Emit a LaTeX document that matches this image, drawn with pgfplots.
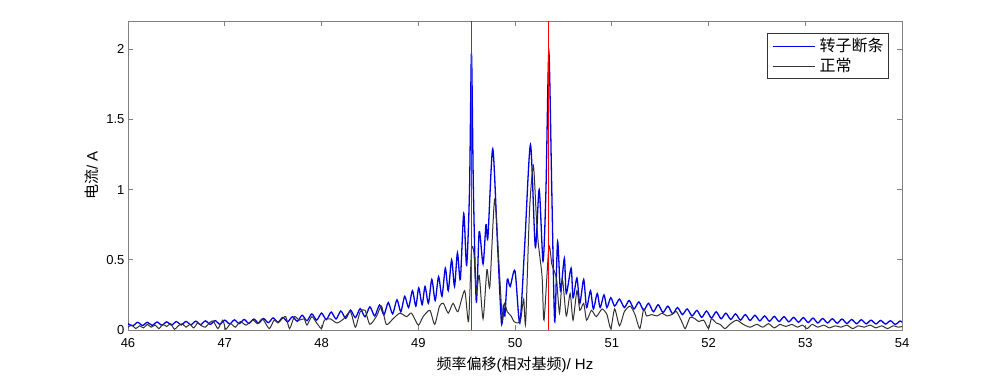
\documentclass[border=0pt]{standalone}
\usepackage{fontspec}
\setmainfont{Liberation Sans}
\newfontfamily\cjk{Noto Sans CJK SC}
\usepackage{pgfplots}
\pgfplotsset{compat=1.18}
\begin{document}
\begin{tikzpicture}
\begin{axis}[
 scale only axis, width=774pt, height=309pt,
 xmin=46, xmax=54, ymin=0, ymax=2.2,
 xtick={46,47,48,49,50,51,52,53,54}, ytick={0,0.5,1,1.5,2},
 axis line style={draw=black!50, line width=0.8pt},
 tick style={draw=black!50, line width=0.6pt},
 major tick length=5pt,
 tick label style={font=\fontsize{13}{15}\selectfont},
 xticklabel style={yshift=-5pt},
 /pgf/number format/assume math mode=true,
 xlabel={{\cjk 频率偏移}({\cjk 相对基频})/ Hz},
 ylabel={{\cjk 电流}/ A},
 label style={font=\fontsize{15}{18}\selectfont},
 xlabel style={at={(axis description cs:0.5,-0.113)}, anchor=center},
 ylabel style={at={(axis description cs:-0.0465,0.5)}, anchor=center},
 legend style={at={(0.983,0.961)}, anchor=north east, draw=black!80,
   font=\cjk\fontsize{16}{19}\selectfont, inner xsep=3pt, inner ysep=3pt,
   row sep=1pt, cells={anchor=west}},
]
\addplot[blue!90!black, line width=1.3pt, smooth, tension=0.45, forget plot] coordinates {
(46.00,0.045) (46.05,0.030) (46.10,0.055) (46.15,0.032) (46.20,0.055) (46.25,0.033)
(46.30,0.057) (46.35,0.034) (46.40,0.058) (46.45,0.035) (46.50,0.060) (46.55,0.036)
(46.60,0.061) (46.65,0.037) (46.70,0.063) (46.75,0.038) (46.80,0.065) (46.85,0.040)
(46.90,0.067) (46.95,0.041) (47.00,0.070) (47.05,0.043) (47.10,0.072) (47.15,0.045)
(47.20,0.075) (47.25,0.047) (47.30,0.078) (47.35,0.049) (47.40,0.082) (47.45,0.052)
(47.50,0.086) (47.55,0.055) (47.60,0.090) (47.65,0.058) (47.70,0.095) (47.75,0.062)
(47.80,0.105) (47.85,0.066) (47.90,0.115) (47.95,0.070) (48.00,0.120) (48.05,0.074)
(48.10,0.128) (48.15,0.078) (48.20,0.135) (48.25,0.083) (48.30,0.142) (48.35,0.088)
(48.40,0.152) (48.45,0.094) (48.50,0.165) (48.55,0.100) (48.60,0.178) (48.645,0.108)
(48.69,0.195) (48.735,0.115) (48.78,0.215) (48.82,0.130) (48.86,0.240) (48.90,0.160)
(48.94,0.280) (48.975,0.170) (49.005,0.300) (49.04,0.180) (49.07,0.310) (49.105,0.190)
(49.14,0.360) (49.175,0.210) (49.21,0.380) (49.245,0.240) (49.28,0.440) (49.31,0.280)
(49.345,0.500) (49.375,0.310) (49.405,0.550) (49.435,0.360) (49.47,0.830) (49.50,0.460)
(49.53,1.000) (49.55,1.970) (49.57,1.000) (49.60,0.200) (49.63,0.700) (49.67,0.470)
(49.70,0.750) (49.72,0.660) (49.77,1.290) (49.82,0.600) (49.86,0.050) (49.88,0.170)
(49.895,0.100) (49.92,0.360) (49.95,0.310) (50.00,0.420) (50.05,0.050) (50.10,0.600)
(50.16,1.320) (50.21,0.590) (50.25,1.000) (50.29,0.490) (50.32,1.000) (50.35,1.980)
(50.38,1.000) (50.41,0.060) (50.44,0.630) (50.47,0.280) (50.51,0.510) (50.53,0.260)
(50.58,0.440) (50.60,0.230) (50.64,0.370) (50.67,0.190) (50.71,0.360) (50.74,0.160)
(50.78,0.280) (50.81,0.150) (50.85,0.260) (50.88,0.160) (50.92,0.250) (50.95,0.160)
(50.99,0.230) (51.03,0.170) (51.08,0.220) (51.13,0.160) (51.18,0.210) (51.23,0.150)
(51.28,0.200) (51.33,0.140) (51.38,0.190) (51.43,0.130) (51.48,0.180) (51.53,0.125)
(51.58,0.170) (51.63,0.115) (51.68,0.160) (51.73,0.110) (51.78,0.150) (51.83,0.100)
(51.88,0.140) (51.93,0.090) (51.98,0.135) (52.03,0.085) (52.08,0.130) (52.13,0.080)
(52.18,0.120) (52.23,0.075) (52.28,0.115) (52.33,0.070) (52.38,0.110) (52.43,0.068)
(52.48,0.105) (52.53,0.065) (52.58,0.100) (52.63,0.062) (52.68,0.097) (52.73,0.060)
(52.78,0.095) (52.83,0.058) (52.88,0.090) (52.93,0.055) (52.98,0.088) (53.03,0.053)
(53.08,0.085) (53.13,0.050) (53.18,0.082) (53.23,0.050) (53.28,0.080) (53.33,0.048)
(53.38,0.078) (53.43,0.046) (53.48,0.075) (53.53,0.045) (53.58,0.073) (53.63,0.044)
(53.68,0.070) (53.73,0.043) (53.78,0.068) (53.83,0.042) (53.88,0.066) (53.93,0.040)
(53.98,0.064) (54.00,0.055)
};
\addplot[black!80, line width=1.0pt, smooth, tension=0.4, forget plot] coordinates {
(46.00,0.020) (46.04,0.035) (46.08,0.010) (46.12,0.030) (46.16,0.015) (46.20,0.040)
(46.24,0.020) (46.28,0.035) (46.32,0.010) (46.36,0.040) (46.40,0.025) (46.44,0.045)
(46.48,0.005) (46.52,0.030) (46.56,0.045) (46.60,0.020) (46.64,0.040) (46.68,0.015)
(46.72,0.050) (46.76,0.030) (46.80,0.020) (46.84,0.050) (46.88,0.065) (46.93,0.010)
(46.98,0.070) (47.01,0.005) (47.06,0.045) (47.11,0.020) (47.16,0.060) (47.22,0.035)
(47.29,0.070) (47.34,0.045) (47.39,0.080) (47.46,0.010) (47.51,0.070) (47.55,0.050)
(47.58,0.070) (47.63,0.095) (47.67,0.010) (47.72,0.095) (47.77,0.070) (47.82,0.080)
(47.85,0.035) (47.90,0.095) (47.95,0.050) (48.00,0.010) (48.03,0.070) (48.09,0.080)
(48.16,0.050) (48.23,0.080) (48.30,0.130) (48.35,0.020) (48.40,0.130) (48.45,0.140)
(48.50,0.040) (48.57,0.100) (48.62,0.170) (48.67,0.040) (48.74,0.080) (48.81,0.120)
(48.88,0.095) (48.93,0.120) (49.00,0.035) (49.05,0.095) (49.12,0.140) (49.17,0.040)
(49.22,0.170) (49.26,0.190) (49.31,0.120) (49.36,0.190) (49.41,0.130) (49.48,0.280)
(49.52,0.060) (49.55,0.570) (49.575,0.550) (49.60,0.260) (49.63,0.390) (49.67,0.080)
(49.71,0.430) (49.74,0.310) (49.79,0.930) (49.84,0.400) (49.87,0.070) (49.89,0.190)
(49.92,0.130) (49.96,0.100) (49.99,0.060) (50.03,0.050) (50.06,0.080) (50.09,0.220)
(50.11,0.050) (50.15,0.850) (50.19,1.170) (50.22,0.810) (50.24,0.620) (50.28,0.380)
(50.30,0.070) (50.35,0.590) (50.38,0.470) (50.40,0.430) (50.43,0.360) (50.46,0.120)
(50.49,0.360) (50.53,0.100) (50.57,0.260) (50.60,0.070) (50.64,0.280) (50.67,0.140)
(50.71,0.190) (50.74,0.070) (50.79,0.140) (50.84,0.095) (50.90,0.150) (50.95,0.110)
(50.99,0.010) (51.03,0.150) (51.08,0.030) (51.13,0.130) (51.19,0.170) (51.24,0.110)
(51.29,0.010) (51.33,0.150) (51.36,0.100) (51.41,0.110) (51.47,0.100) (51.52,0.120)
(51.57,0.100) (51.62,0.110) (51.67,0.130) (51.73,0.050) (51.76,0.010) (51.81,0.090)
(51.86,0.080) (51.90,0.060) (51.95,0.070) (52.00,0.010) (52.03,0.080) (52.08,0.050)
(52.12,0.040) (52.17,0.010) (52.22,0.040) (52.29,0.070) (52.36,0.040) (52.43,0.020)
(52.50,0.040) (52.56,0.020) (52.62,0.045) (52.68,0.015) (52.74,0.040) (52.80,0.025)
(52.86,0.040) (52.92,0.020) (52.97,0.035) (53.02,0.010) (53.07,0.040) (53.13,0.020)
(53.19,0.035) (53.25,0.015) (53.31,0.030) (53.37,0.020) (53.43,0.035) (53.49,0.010)
(53.55,0.030) (53.61,0.020) (53.67,0.035) (53.73,0.015) (53.79,0.030) (53.85,0.010)
(53.91,0.030) (53.96,0.020) (54.00,0.025)
};
\addplot[red, line width=1.2pt, ycomb, mark=none, forget plot] coordinates {(49.55,2.2) (50.35,2.2)};
\addlegendimage{empty legend}
\addlegendentry{\textcolor{blue!90!black}{\rule[0.3em]{42pt}{1.3pt}}\hspace{5pt}转子断条}
\addlegendimage{empty legend}
\addlegendentry{\textcolor{black!80}{\rule[0.3em]{42pt}{1.0pt}}\hspace{5pt}正常}
\end{axis}
\path (current axis.south west) ++(-128pt,-44pt) coordinate (bbA);
\path (current axis.north east) ++(83pt,21pt) coordinate (bbB);
\useasboundingbox (bbA) rectangle (bbB);
\end{tikzpicture}
\end{document}
